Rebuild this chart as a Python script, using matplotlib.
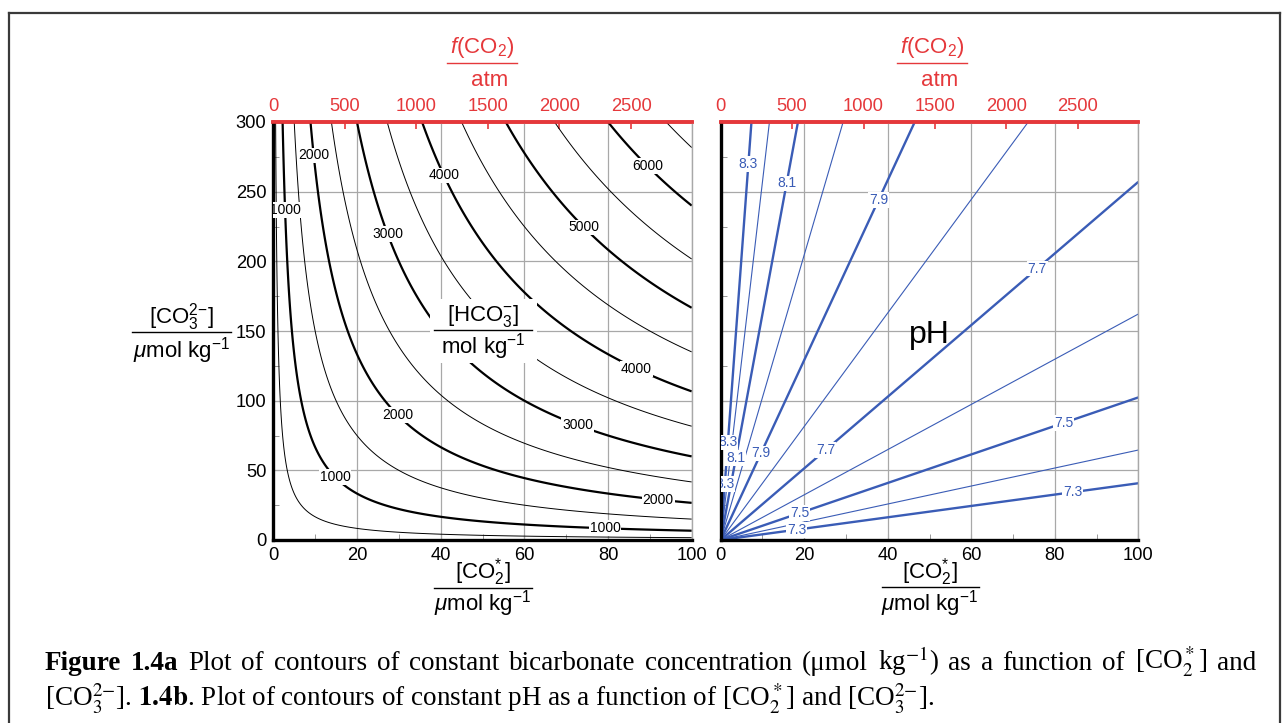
import numpy as np
import matplotlib
matplotlib.use("Agg")
import matplotlib.pyplot as plt
from matplotlib.lines import Line2D
from matplotlib.patches import Rectangle

plt.rcParams['font.family'] = ['Liberation Sans', 'DejaVu Sans']
plt.rcParams['mathtext.fontset'] = 'custom'
plt.rcParams['mathtext.rm'] = 'Liberation Sans'
plt.rcParams['mathtext.it'] = 'Liberation Sans:italic'
plt.rcParams['mathtext.bf'] = 'Liberation Sans:bold'

# ---------------- data ----------------
CO2_TICKS = [0, 20, 40, 60, 80, 100]            # [CO2*] umol/kg
CO2_MINOR = [10, 30, 50, 70, 90]
CO3_TICKS = [0, 50, 100, 150, 200, 250, 300]    # [CO3 2-] umol/kg
CO3_MINOR = [25, 75, 125, 175, 225, 275]
FCO2_TICKS = [0, 500, 1000, 1500, 2000, 2500]   # f(CO2) uatm (top axis)

HCO3_THIN = [500, 1500, 2500, 3500, 4500, 5500, 6500]
HCO3_THICK = [1000, 2000, 3000, 4000, 5000, 6000]
PH_THIN = [7.4, 7.6, 7.8, 8.0, 8.2]
PH_THICK = [7.3, 7.5, 7.7, 7.9, 8.1, 8.3]

K1_OVER_K2 = 1500.0     # [HCO3-]^2 / ([CO2*][CO3 2-])
PK1_PLUS_PK2 = 14.99    # pK1 + pK2
K0 = 0.0342             # umol kg-1 per uatm (Henry's law)

# label anchor positions (near the contours)
HCO3_LABEL_POS = [(2.8, 237), (9.6, 276), (27.5, 220), (41, 262), (74.5, 225),
                  (90, 270), (14.7, 45), (29.9, 90), (72.9, 83.5), (87, 124),
                  (92, 29.5), (79.3, 8.6)]
PH_LABEL_POS = [(6.6, 270), (15.6, 256), (37.9, 244), (75.7, 195), (1.8, 70),
                (3.4, 59), (9.7, 62), (1.0, 40), (25.2, 64.4), (82.2, 83.6),
                (19, 18.7), (84.3, 33.9), (18.2, 6.7)]

RED = '#e5383b'
BLUE = '#3a5cb6'
GRID = '#a8a8a8'

W, H = 1286, 723
fig = plt.figure(figsize=(W / 100, H / 100), dpi=100)

def fx(px):
    return px / W

def fy(py):
    return 1 - py / H

axL = fig.add_axes([fx(273.3), fy(540), fx(691.7) - fx(273.3), fy(122) - fy(540)])
axR = fig.add_axes([fx(720.7), fy(540), fx(1138.3) - fx(720.7), fy(122) - fy(540)])

co2 = np.linspace(0.005, 100, 800)
co3 = np.linspace(0.005, 300, 800)
X, Y = np.meshgrid(co2, co3)
HCO3 = np.sqrt(K1_OVER_K2 * X * Y)
PH = 0.5 * PK1_PLUS_PK2 + 0.5 * np.log10(Y / X)

for ax in (axL, axR):
    ax.set_xlim(0, 100)
    ax.set_ylim(0, 300)
    ax.set_xticks(CO2_TICKS)
    ax.set_yticks(CO3_TICKS)
    ax.set_xticks(CO2_MINOR, minor=True)
    ax.set_yticks(CO3_MINOR, minor=True)
    ax.set_axisbelow(True)
    ax.grid(True, which='major', color=GRID, lw=0.9)
    ax.tick_params(which='major', direction='in', length=4, color=GRID,
                   labelsize=13.2, pad=5)
    ax.tick_params(which='minor', direction='in', length=4, color='#888888')
    ax.spines['left'].set_linewidth(2.4)
    ax.spines['bottom'].set_linewidth(2.4)
    ax.spines['right'].set_color(GRID)
    ax.spines['right'].set_linewidth(1.0)
    ax.spines['top'].set_color(RED)
    ax.spines['top'].set_linewidth(2.6)
    ax.set_xticklabels([str(v) for v in CO2_TICKS])
    sec = ax.secondary_xaxis('top', functions=(lambda x: x / K0, lambda f: f * K0))
    sec.set_xticks(FCO2_TICKS)
    sec.set_xticklabels([str(v) for v in FCO2_TICKS])
    sec.tick_params(colors=RED, labelsize=13.2, direction='in', length=5,
                    width=1.2, pad=5)
    sec.spines['top'].set_color(RED)
    sec.spines['top'].set_linewidth(2.6)

axR.tick_params(labelleft=False)
axL.set_yticklabels([str(v) for v in CO3_TICKS])

# ---------------- left: bicarbonate contours ----------------
axL.contour(X, Y, HCO3, levels=HCO3_THIN, colors='k', linewidths=0.7)
csL = axL.contour(X, Y, HCO3, levels=HCO3_THICK, colors='k', linewidths=1.6)
axL.clabel(csL, inline=False, manual=HCO3_LABEL_POS, fmt='%d',
           fontsize=10, colors='k')
for t in csL.labelTexts:
    t.set_rotation(0)
    t.set_bbox(dict(facecolor='white', edgecolor='none', pad=0.6))

axL.add_patch(Rectangle((37.5, 127), 25.5, 46, facecolor='white',
                        edgecolor='none', zorder=4))
axL.text(50.2, 160.5, r'[HCO$_3^{{-}}$]', ha='center', va='center', fontsize=16, zorder=5)
axL.plot([38.4, 61.8], [150.4, 150.4], color='k', lw=1.0, zorder=5)
axL.text(50.2, 139, r'mol kg$^{{-}1}$', ha='center', va='center', fontsize=16, zorder=5)

# ---------------- right: pH contours ----------------
axR.contour(X, Y, PH, levels=PH_THIN, colors=BLUE, linewidths=0.8)
csR = axR.contour(X, Y, PH, levels=PH_THICK, colors=BLUE, linewidths=1.7)
axR.clabel(csR, inline=False, manual=PH_LABEL_POS, fmt='%.1f',
           fontsize=10, colors=BLUE)
for t in csR.labelTexts:
    t.set_rotation(0)
    t.set_bbox(dict(facecolor='white', edgecolor='none', pad=0.6))
axR.text(50, 147, 'pH', ha='center', va='center', fontsize=23)

# ---------------- fraction-style axis labels ----------------
def frac(xc, y_num, y_line, x0, x1, y_den, num, den, color='k', xden=None):
    fig.text(fx(xc), fy(y_num), num, ha='center', va='center', fontsize=16, color=color)
    fig.add_artist(Line2D([fx(x0), fx(x1)], [fy(y_line), fy(y_line)],
                          transform=fig.transFigure, color=color, lw=1.0))
    fig.text(fx(xden if xden is not None else xc), fy(y_den), den, ha='center',
             va='center', fontsize=16, color=color)

frac(181.7, 317, 332, 131.7, 230.7, 351, r'[CO$_3^{2{-}}$]', r'$\mu$mol kg$^{{-}1}$')
frac(483, 572, 588, 434, 532, 604, r'[CO$_2^{*}$]', r'$\mu$mol kg$^{{-}1}$')
frac(930, 572, 587, 882, 979, 604, r'[CO$_2^{*}$]', r'$\mu$mol kg$^{{-}1}$')
frac(482, 48, 63, 447, 517, 80, r'$f$(CO$_2$)', 'atm', color=RED, xden=490)
frac(932, 48, 63, 897, 967, 80, r'$f$(CO$_2$)', 'atm', color=RED, xden=940)

# ---------------- frame ----------------
for xs, ys in (([9, 9], [H, 13]), ([9, 1280], [13, 13]), ([1280, 1280], [13, H])):
    fig.add_artist(Line2D([fx(v) for v in xs], [fy(v) for v in ys],
                          transform=fig.transFigure, color='#3a3a3a', lw=1.6))

# ---------------- caption ----------------
CAP_FS = 19.5
line1 = [('Figure', 'bold'), ('1.4a', 'bold'), ('Plot', 'normal'), ('of', 'normal'),
         ('contours', 'normal'), ('of', 'normal'), ('constant', 'normal'),
         ('bicarbonate', 'normal'), ('concentration', 'normal'),
         (r'(μmol', 'normal'), (r'kg$^{{-}1}$)', 'normal'), ('as', 'normal'),
         ('a', 'normal'), ('function', 'normal'), ('of', 'normal'),
         (r'[CO$_2^*$]', 'normal'), ('and', 'normal')]
renderer = fig.canvas.get_renderer()
texts = []
for w, wt in line1:
    t = fig.text(0, fy(670), w, fontsize=CAP_FS, fontweight=wt, ha='left',
                 va='baseline', family='Liberation Serif', math_fontfamily='stix')
    texts.append(t)
widths = [t.get_window_extent(renderer).width for t in texts]
x_start, x_end = 45, 1256
gap = (x_end - x_start - sum(widths)) / (len(texts) - 1)
xpos = x_start
for t, wdt in zip(texts, widths):
    t.set_x(fx(xpos))
    xpos += wdt + gap

fig.text(fx(45), fy(707),
         r'[CO$_3^{2{-}}$]. $\mathbf{1.4b}$. Plot of contours of constant pH as a function of [CO$_2^*$] and [CO$_3^{2{-}}$].',
         fontsize=CAP_FS, ha='left', va='baseline', family='Liberation Serif',
         math_fontfamily='stix')

fig.savefig('out.png', dpi=100)
